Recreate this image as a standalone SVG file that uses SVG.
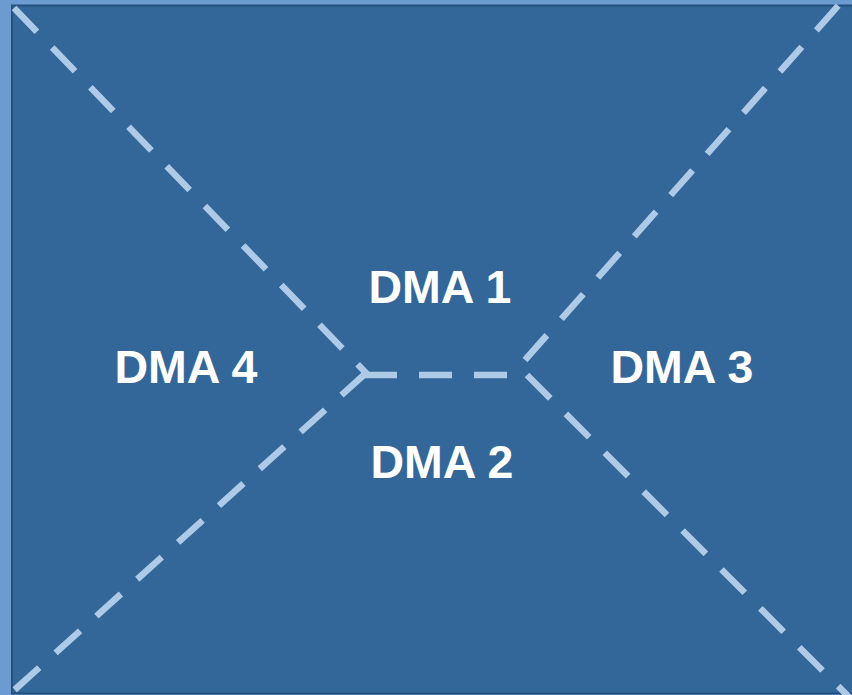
<svg xmlns="http://www.w3.org/2000/svg" width="852" height="695" viewBox="0 0 852 695">
<style>
.lbl{font-family:"Liberation Sans",Arial,sans-serif;font-weight:bold;font-size:46.5px;fill:#ffffff}
.dash{stroke:#aecae6;stroke-width:6.5;stroke-dasharray:33 22;fill:none}
</style>
<rect x="0" y="0" width="852" height="695" fill="#6b9bd0"/>
<rect x="12" y="5.5" width="845" height="688" fill="#336699" stroke="#24507e" stroke-width="2"/>
<g id="connectors">
<line class="dash" x1="14" y1="8" x2="368" y2="375"/>
<line class="dash" x1="366" y1="373" x2="10" y2="694"/>
<line class="dash" x1="364" y1="375" x2="525" y2="375"/>
<line class="dash" x1="525" y1="360" x2="852" y2="-10"/>
<line class="dash" x1="527" y1="375" x2="852" y2="700"/>
</g>
<g id="dma1"><text class="lbl" x="440" y="303" text-anchor="middle">DMA 1</text></g>
<g id="dma2"><text class="lbl" x="442" y="478" text-anchor="middle">DMA 2</text></g>
<g id="dma3"><text class="lbl" x="682" y="383" text-anchor="middle">DMA 3</text></g>
<g id="dma4"><text class="lbl" x="186" y="383" text-anchor="middle">DMA 4</text></g>
</svg>
